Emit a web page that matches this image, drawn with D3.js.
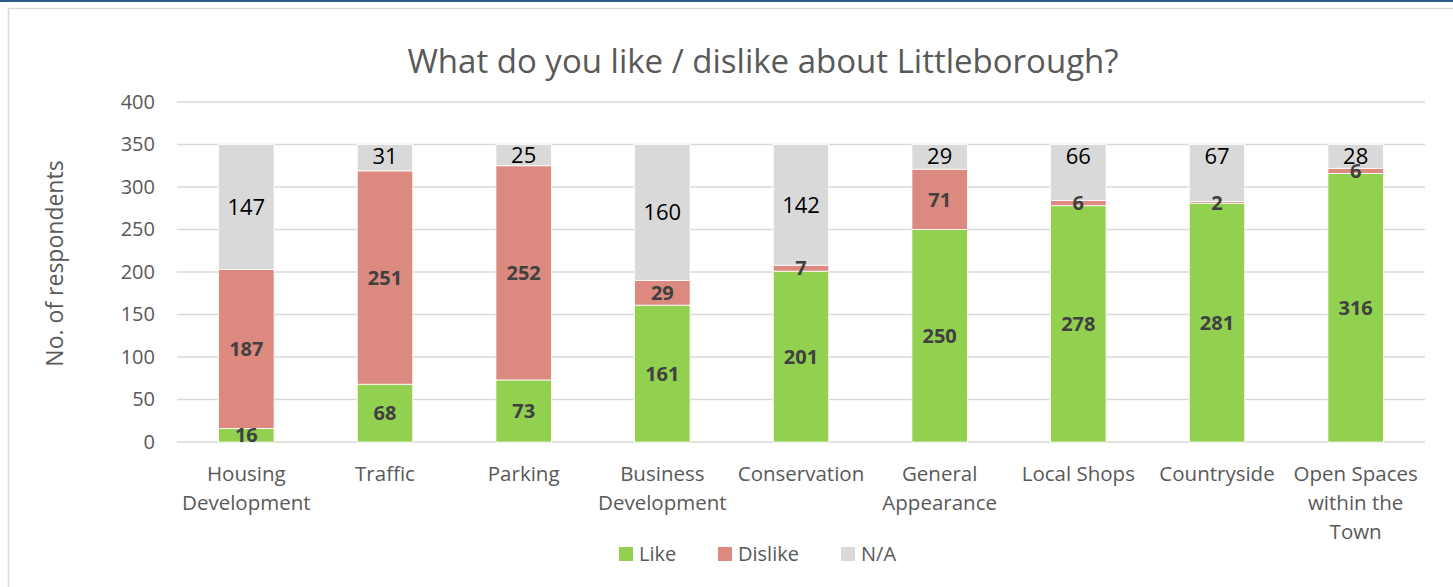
<!DOCTYPE html>
<html>
<head>
<meta charset="utf-8">
<script src="https://cdn.jsdelivr.net/npm/d3@7"></script>
<style>
  body { margin: 0; background: #fff; }
  svg { display: block; }
  text { font-family: "Open Sans", sans-serif; }
</style>
</head>
<body>
<svg id="chart" width="1453" height="587"></svg>
<script>
// Survey responses per topic
const categories = ["Housing Development", "Traffic", "Parking", "Business Development",
  "Conservation", "General Appearance", "Local Shops", "Countryside", "Open Spaces within the Town"];
const likeValues    = [16, 68, 73, 161, 201, 250, 278, 281, 316];
const dislikeValues = [187, 251, 252, 29, 7, 71, 6, 2, 6];
const naValues      = [147, 31, 25, 160, 142, 29, 66, 67, 28];
const seriesNames   = ["Like", "Dislike", "N/A"];
const yTicks        = [0, 50, 100, 150, 200, 250, 300, 350, 400];

const colors = { "Like": "#92d050", "Dislike": "#dc8a7f", "N/A": "#d9d9d9" };

const svg = d3.select("#chart");
const W = 1453, H = 587;

// frame
svg.append("rect").attr("x", 0).attr("y", 0).attr("width", W).attr("height", 2).attr("fill", "#2e5a87");
svg.append("rect").attr("x", 8.5).attr("y", 8.5).attr("width", W + 10).attr("height", H + 10)
  .attr("fill", "none").attr("stroke", "#d9d9d9").attr("stroke-width", 1.5);

const margin = { left: 177, right: 28, top: 102 };
const plotW = W - margin.left - margin.right;
const plotBottom = 442;

const x = d3.scaleBand().domain(categories).range([margin.left, margin.left + plotW]).paddingInner(0.6).paddingOuter(0.3);
const y = d3.scaleLinear().domain([0, 400]).range([plotBottom, margin.top]);

// gridlines
svg.append("g").selectAll("line").data(yTicks).join("line")
  .attr("x1", margin.left).attr("x2", margin.left + plotW)
  .attr("y1", d => y(d)).attr("y2", d => y(d))
  .attr("stroke", "#d9d9d9").attr("stroke-width", 1.5);

// y tick labels
const yAxis = d3.axisLeft(y).tickValues(yTicks).tickSize(0).tickPadding(22);
const gy = svg.append("g").attr("transform", `translate(${margin.left},0)`).call(yAxis);
gy.select(".domain").remove();
gy.selectAll("text").attr("font-family", "Open Sans, sans-serif").attr("font-size", 20).attr("fill", "#595959");

// y title
svg.append("text")
  .attr("transform", `translate(63, ${y(210)}) rotate(-90)`)
  .attr("text-anchor", "middle")
  .attr("font-size", 23).attr("fill", "#595959")
  .text("No. of respondents");

// title
svg.append("text").attr("x", 763).attr("y", 73).attr("text-anchor", "middle")
  .attr("font-size", 33).attr("fill", "#595959")
  .text("What do you like / dislike about Littleborough?");

// stacked data
const rows = categories.map((c, i) => ({ category: c, "Like": likeValues[i], "Dislike": dislikeValues[i], "N/A": naValues[i] }));
const stacked = d3.stack().keys(seriesNames)(rows);

const layers = svg.append("g").selectAll("g").data(stacked).join("g")
  .attr("fill", d => colors[d.key]);

layers.selectAll("rect").data(d => d).join("rect")
  .attr("x", d => x(d.data.category))
  .attr("width", x.bandwidth())
  .attr("y", d => y(d[1]))
  .attr("height", d => y(d[0]) - y(d[1]))
  .attr("stroke", "#fff").attr("stroke-width", 0.8);

// value labels: centred in each segment; short N/A caps get theirs near the top
stacked.forEach(layer => {
  const isNA = layer.key === "N/A";
  svg.append("g").selectAll("text").data(layer).join("text")
    .attr("x", d => x(d.data.category) + x.bandwidth() / 2)
    .attr("y", d => {
      const top = y(d[1]), mid = (y(d[0]) + y(d[1])) / 2;
      return isNA && (y(d[0]) - top) < 70 ? Math.min(mid, top + 12) : mid;
    })
    .attr("dy", "0.36em")
    .attr("text-anchor", "middle")
    .attr("font-size", isNA ? 22 : 20)
    .attr("font-weight", isNA ? 400 : 700)
    .attr("fill", isNA ? "#000" : "#404040")
    .text(d => d[1] - d[0]);
});

// category labels with word wrap
const maxLine = x.step() - 12;
categories.forEach(cat => {
  const cx = x(cat) + x.bandwidth() / 2;
  const t = svg.append("text")
    .attr("x", cx)
    .attr("y", 481)
    .attr("text-anchor", "middle")
    .attr("font-size", 20.5).attr("fill", "#595959");
  let line = [];
  let tspan = t.append("tspan").attr("x", cx).attr("dy", 0);
  cat.split(" ").forEach(w => {
    line.push(w);
    tspan.text(line.join(" "));
    if (tspan.node().getComputedTextLength() > maxLine && line.length > 1) {
      line.pop();
      tspan.text(line.join(" "));
      line = [w];
      tspan = t.append("tspan").attr("x", cx).attr("dy", 29).text(w);
    }
  });
});

// legend
const legendX = [619, 718, 841];
const legend = svg.append("g").selectAll("g").data(seriesNames).join("g")
  .attr("transform", (d, i) => `translate(${legendX[i]}, 547)`);
legend.append("rect").attr("width", 14).attr("height", 14).attr("fill", d => colors[d]);
legend.append("text").attr("x", 20).attr("y", 7).attr("dy", "0.36em")
  .attr("font-size", 20).attr("fill", "#595959").text(d => d);
</script>
</body>
</html>
